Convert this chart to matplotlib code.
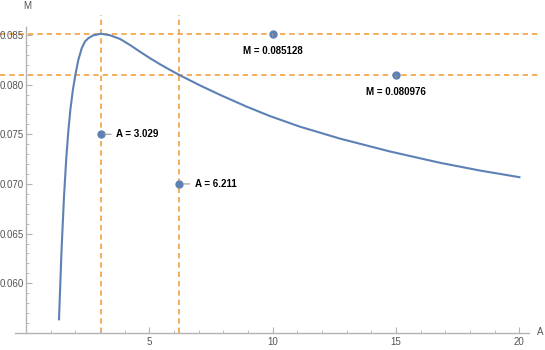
import matplotlib
matplotlib.use("Agg")
import matplotlib.pyplot as plt
from matplotlib.ticker import FixedLocator

# Curve values
A_vals = [1.338, 1.44, 1.54, 1.63, 1.715, 1.80, 1.90, 2.0, 2.12, 2.258, 2.392, 2.525, 2.716,
          3.029, 3.405, 3.81, 4.216, 4.621, 5.026, 5.432, 5.837, 6.211, 7.053, 7.864, 8.946,
          9.89, 11.11, 12.73, 14.75, 16.78, 18.40, 20.0]
M_vals = [0.05637, 0.06331, 0.06871, 0.07249, 0.07530, 0.07751, 0.07946, 0.08096, 0.08248, 0.08366, 0.08435, 0.08467, 0.08495,
          0.085128, 0.08497, 0.08460, 0.08399, 0.08331, 0.08266, 0.08205, 0.08148, 0.080976, 0.07992, 0.07897, 0.07778,
          0.07683, 0.07576, 0.07456, 0.07327, 0.07213, 0.07135, 0.07068]

# Reference lines
v_lines = [3.029, 6.211]
h_lines = [0.085128, 0.080976]

# Callout points
callout_x = [3.029, 6.211, 10, 15]
callout_y = [0.075, 0.070, 0.085128, 0.080976]
callout_labels = ["A = 3.029", "A = 6.211", "M = 0.085128", "M = 0.080976"]
callout_side = ["right", "right", "below", "below"]

x_major = [5, 10, 15, 20]
y_major = [0.060, 0.065, 0.070, 0.075, 0.080, 0.085]
y_ticklabels = ["0.060", "0.065", "0.070", "0.075", "0.080", "0.085"]

plt.rcParams['font.family'] = ['Liberation Sans', 'DejaVu Sans']

W, H = 545, 350
fig = plt.figure(figsize=(W / 100, H / 100), dpi=100)
ax = fig.add_axes([0, (H - 333) / H, 541 / W, (333 - 15) / H])
ax.set_xlim(-1.054, 20.876)
ax.set_ylim(0.05499, 0.08701)

orange = '#f4a040'
blue = '#5e81b5'
gray = '#b3b3b3'

for v in v_lines:
    ax.axvline(v, color=orange, lw=1.2, ls=(0, (3.2, 2.4)), zorder=1)
for h in h_lines:
    ax.axhline(h, color=orange, lw=1.2, ls=(0, (3.2, 2.4)), zorder=1)

ax.plot(A_vals, M_vals, color=blue, lw=1.5, zorder=3, solid_joinstyle='round')

for x, y, lab, side in zip(callout_x, callout_y, callout_labels, callout_side):
    ax.plot([x], [y], 'o', color=blue, ms=5, zorder=5)
    if side == "right":
        ax.annotate(lab, xy=(x, y), xytext=(11, 0), textcoords='offset points',
                    ha='left', va='center', fontsize=7, fontweight='bold', color='black',
                    arrowprops=dict(arrowstyle='-', color='#999999', lw=0.8, shrinkA=1.5, shrinkB=2.5),
                    zorder=6)
    else:
        ax.annotate(lab, xy=(x, y), xytext=(0, -12.5), textcoords='offset points',
                    ha='center', va='center', fontsize=7, fontweight='bold', color='black',
                    arrowprops=dict(arrowstyle='-', color='#999999', lw=0.8, shrinkA=5, shrinkB=2.5),
                    zorder=6)

# Axes styling
for s in ['top', 'right']:
    ax.spines[s].set_visible(False)
ax.spines['left'].set_position(('data', 0))
ax.spines['left'].set_bounds(0.05499, 0.0858)
ax.spines['bottom'].set_bounds(-0.45, 20.39)
for s in ['left', 'bottom']:
    ax.spines[s].set_color(gray)
    ax.spines[s].set_linewidth(1.0)

ax.xaxis.set_major_locator(FixedLocator(x_major))
ax.xaxis.set_minor_locator(FixedLocator([i for i in range(1, 21) if i not in x_major]))
ax.yaxis.set_major_locator(FixedLocator(y_major))
ax.set_yticklabels(y_ticklabels)
ax.yaxis.set_minor_locator(FixedLocator([0.056 + 0.001 * i for i in range(30)]))

ax.tick_params(axis='both', which='major', direction='in', length=4, width=0.8, color=gray,
               labelsize=7, labelcolor='#555555')
ax.tick_params(axis='both', which='minor', direction='in', length=2.2, width=0.6, color=gray)
ax.tick_params(axis='y', which='major', pad=1.5)
ax.tick_params(axis='x', which='major', pad=3)

fig.text(27 / W, 1 - 6 / H, "M", ha='center', va='center', fontsize=7, color='#555555')
fig.text(540 / W, 1 - 332 / H, "A", ha='center', va='center', fontsize=7, color='#555555')

fig.savefig("out.png", dpi=100)
